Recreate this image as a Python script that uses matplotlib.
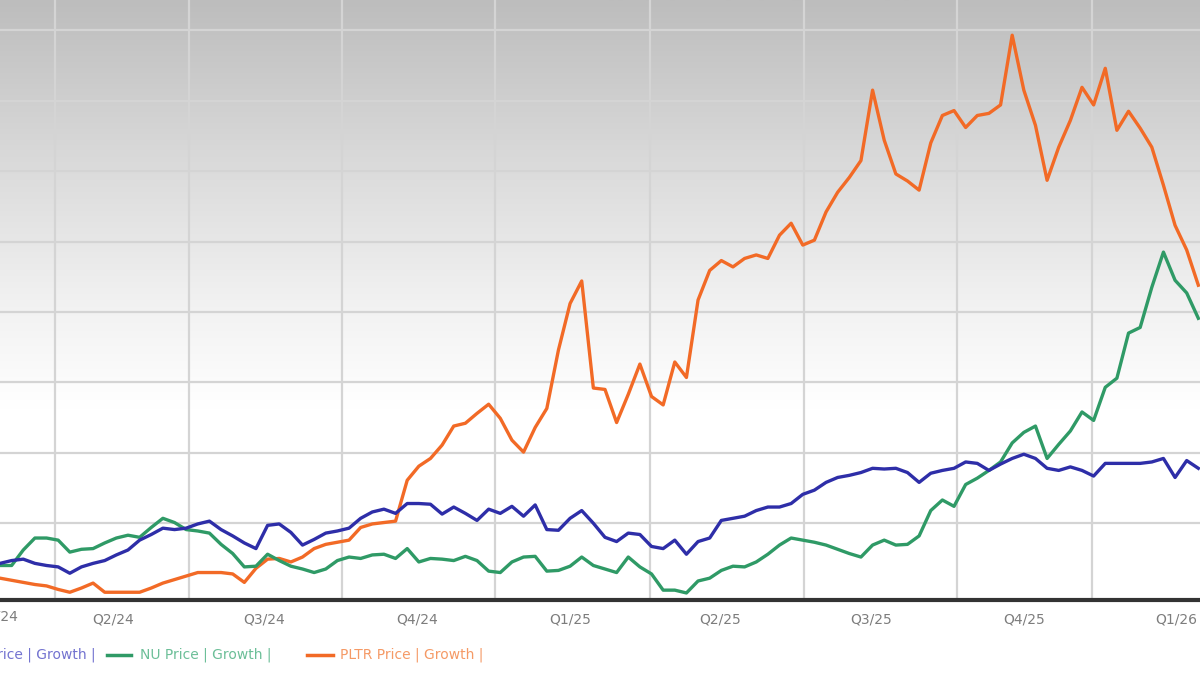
import numpy as np
import pandas as pd
import matplotlib

matplotlib.use("Agg")
import matplotlib.pyplot as plt
from matplotlib.colors import LinearSegmentedColormap

# weekly price growth (%); y labels are cropped so 0 = first gridline
START = "2024-01-24"

blue_vals = [-57, -53, -51, -57, -60, -62, -71, -62, -57, -53, -45, -38, -24, -16, -7, -9,
             -7, -1, 3, -9, -18, -28, -36, -3, -1, -13, -31, -23, -14, -11, -7, 7,
             16, 20, 14, 28, 28, 27, 13, 23, 14, 4, 20, 14, 24, 10, 26, -9,
             -10, 7, 18, 0, -20, -26, -14, -16, -33, -36, -24, -44, -26, -21, 4, 7,
             10, 18, 23, 23, 28, 41, 47, 58, 65, 68, 72, 78, 77, 78, 72, 58,
             71, 75, 78, 87, 85, 75, 84, 92, 98, 92, 78, 75, 80, 75, 67, 85,
             85, 85, 85, 87, 92, 65, 89, 78]

green_vals = [-60, -60, -38, -21, -21, -24, -41, -37, -36, -28, -21, -17, -20, -6, 7, 1,
              -9, -11, -14, -30, -43, -62, -61, -44, -53, -61, -65, -70, -65, -53, -48, -50,
              -45, -44, -50, -36, -55, -50, -51, -53, -47, -53, -68, -70, -55, -48, -47, -68,
              -67, -61, -48, -60, -65, -70, -48, -62, -72, -95, -95, -99, -82, -78, -67, -61,
              -62, -55, -44, -31, -21, -24, -27, -31, -37, -43, -48, -31, -24, -31, -30, -18,
              18, 33, 24, 55, 64, 75, 87, 114, 129, 138, 92, 112, 131, 158, 146, 193,
              206, 270, 278, 335, 385, 345, 327, 291]

orange_vals = [-78, -81, -84, -87, -89, -94, -98, -92, -85, -98, -98, -98, -98, -92, -85, -80,
               -75, -70, -70, -70, -72, -84, -64, -51, -50, -55, -48, -36, -30, -27, -24, -6,
               -1, 1, 3, 61, 81, 92, 111, 138, 142, 156, 169, 149, 118, 101, 136, 163,
               246, 312, 344, 192, 190, 143, 183, 226, 180, 168, 229, 207, 317, 359, 373, 364,
               376, 381, 376, 409, 426, 395, 402, 442, 470, 491, 515, 615, 544, 496, 486, 473,
               540, 579, 586, 562, 579, 582, 594, 693, 615, 565, 487, 534, 572, 619, 594, 646,
               558, 585, 561, 534, 480, 423, 388, 338]

quarter_labels = ["Q2/24", "Q3/24", "Q4/24", "Q1/25", "Q2/25", "Q3/25", "Q4/25", "Q1/26"]
quarter_dates = ["2024-04-01", "2024-07-01", "2024-10-01", "2025-01-01",
                 "2025-04-01", "2025-07-01", "2025-10-01", "2026-01-01"]
vgrid_dates = ["2024-02-26", "2024-05-17", "2024-08-17", "2024-11-17",
               "2025-02-18", "2025-05-22", "2025-08-22", "2025-11-11"]
y_grid = [0, 100, 200, 300, 400, 500, 600, 700]

BLUE = "#2e2ea8"
GREEN = "#2f9a66"
ORANGE = "#f26a26"

dates = pd.date_range(START, periods=len(blue_vals), freq="7D")

fig = plt.figure(figsize=(12, 6.75), dpi=100)
ax = fig.add_axes([0, 75 / 675, 1, 600 / 675])

# grey fade at the top of the plot area
grad = np.linspace(0, 1, 256).reshape(-1, 1)
cmap = LinearSegmentedColormap.from_list(
    "fade", [(0, "#bdbdbd"), (0.25, "#d8d8d8"), (0.5, "#f1f1f1"), (0.68, "#ffffff"), (1, "#ffffff")])
ax.imshow(grad, extent=[0, 1, 0, 1], transform=ax.transAxes, aspect="auto",
          cmap=cmap, zorder=0, origin="upper")

for d in vgrid_dates:
    ax.axvline(pd.Timestamp(d), color="#d4d4d4", lw=1.6, zorder=1)
for v in y_grid:
    ax.axhline(v, color="#d4d4d4", lw=1.6, zorder=1)

ax.plot(dates, orange_vals, color=ORANGE, lw=2.4, zorder=3)
ax.plot(dates, green_vals, color=GREEN, lw=2.4, zorder=4)
ax.plot(dates, blue_vals, color=BLUE, lw=2.4, zorder=5)

ax.set_xlim(pd.Timestamp(START), pd.Timestamp(START) + pd.Timedelta(days=722))
ax.set_ylim(-109, 743)

ax.set_xticks([pd.Timestamp(d) for d in quarter_dates])
ax.set_xticklabels(quarter_labels)
ax.tick_params(axis="x", length=0, pad=9, labelsize=10, labelcolor="#7d7d7d")
ax.set_yticks([])
for s in ["top", "right", "left"]:
    ax.spines[s].set_visible(False)
ax.spines["bottom"].set_color("#333333")
ax.spines["bottom"].set_linewidth(3)
ax.spines["bottom"].set_zorder(6)

# partly cut-off first quarter label
ax.text(18 / 1200, -0.015, "Q1/24", transform=ax.transAxes, ha="right", va="top",
        fontsize=10, color="#7d7d7d")

# legend row (left part cropped in the original)
ly = 1 - 655 / 675
fig.text(96 / 1200, ly, "Price | Growth |", ha="right", va="center",
         fontsize=10, color="#7373d0")
fig.add_artist(plt.Line2D([107 / 1200, 131 / 1200], [ly, ly], color=GREEN, lw=2.5))
fig.text(140 / 1200, ly, "NU Price | Growth |", ha="left", va="center",
         fontsize=10, color="#6cbf98")
fig.add_artist(plt.Line2D([307 / 1200, 333 / 1200], [ly, ly], color=ORANGE, lw=2.5))
fig.text(340 / 1200, ly, "PLTR Price | Growth |", ha="left", va="center",
         fontsize=10, color="#f59a66")

fig.savefig("out.png", dpi=100)
